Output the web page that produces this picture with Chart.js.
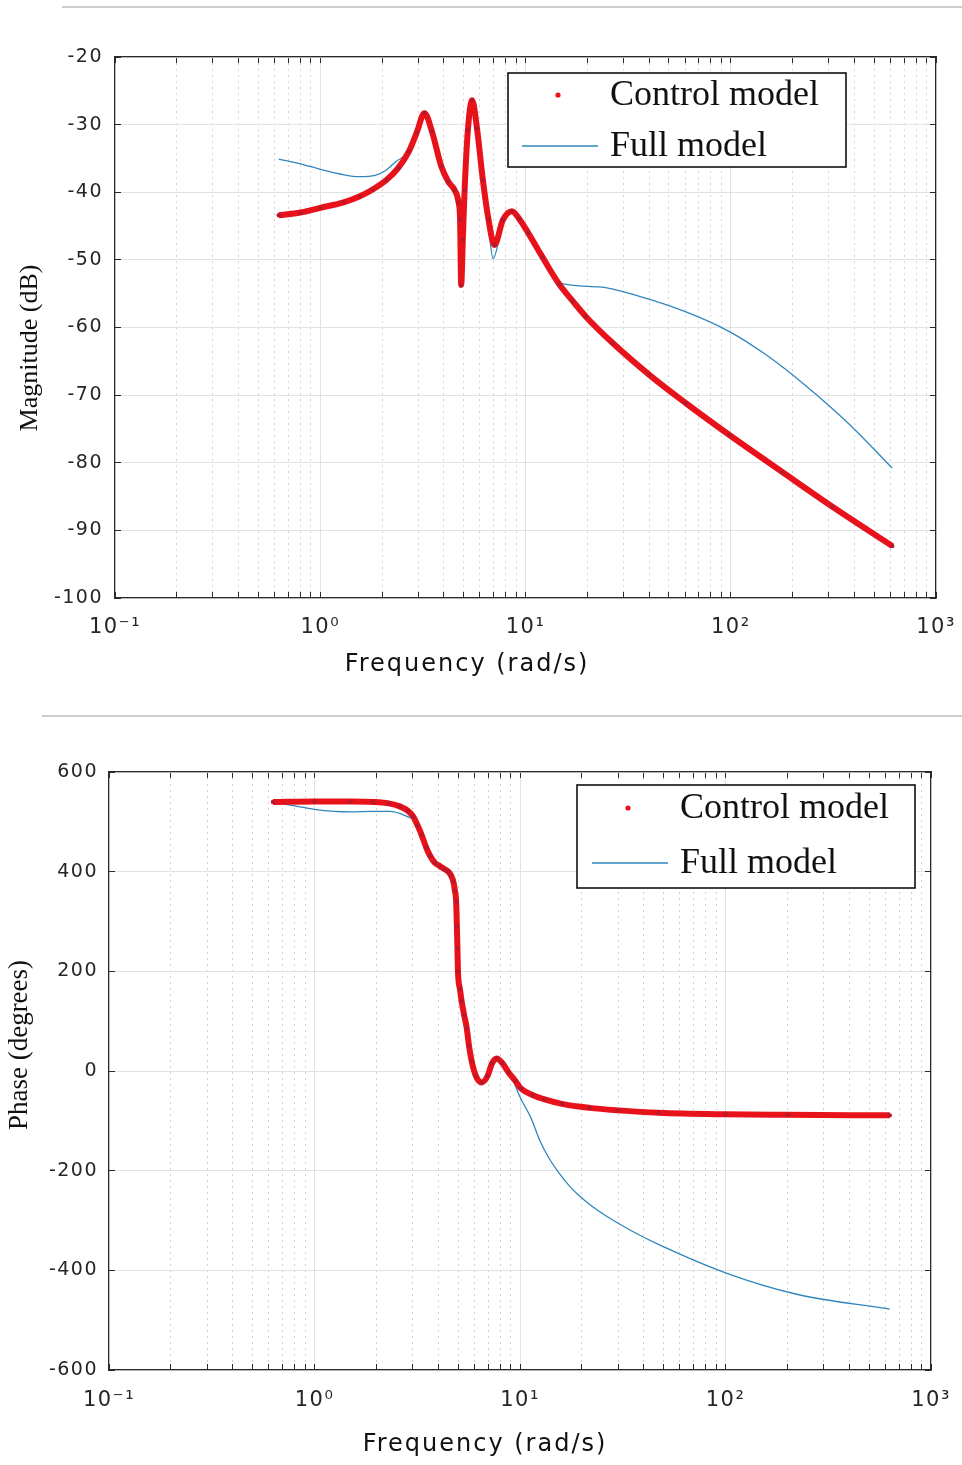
<!DOCTYPE html>
<html>
<head>
<meta charset="utf-8">
<script src="https://cdn.jsdelivr.net/npm/chart.js@4.4.1/dist/chart.umd.min.js"></script>
<style>
  html, body { margin: 0; padding: 0; background: #fff; }
  body { width: 962px; height: 1465px; position: relative; overflow: hidden; }
  .rule { position: absolute; height: 2px; background: #cdcdcd; }
  #magWrap { position: absolute; left: 0; top: 0; width: 962px; height: 700px; }
  #phWrap { position: absolute; left: 0; top: 720px; width: 962px; height: 745px; }
</style>
</head>
<body>
<div class="rule" style="left:62px; top:6px; width:900px;"></div>
<div class="rule" style="left:42px; top:715px; width:920px;"></div>
<div id="magWrap"><canvas id="magChart"></canvas></div>
<div id="phWrap"><canvas id="phChart"></canvas></div>

<script>
/* ------------------------------------------------------------------ */
/*  Axis ticks                                                        */
/* ------------------------------------------------------------------ */

var DECADES = [0.1, 1, 10, 100, 1000];
var DECADE_LABELS = ['10\u207B\u00B9', '10\u2070', '10\u00B9', '10\u00B2', '10\u00B3'];
var MINOR_STEPS = [2, 3, 4, 5, 6, 7, 8, 9];
var MAG_TICKS = [-100, -90, -80, -70, -60, -50, -40, -30, -20];
var PHASE_TICKS = [-600, -400, -200, 0, 200, 400, 600];

var SERIES_LABELS = ['Control model', 'Full model'];

/* ------------------------------------------------------------------ */
/*  Magnitude (dB)                              */
/* ------------------------------------------------------------------ */

var MAG_CTRL_FREQ = [0.628, 0.8, 1.0, 1.3, 1.56, 1.8, 2.1, 2.4, 2.7, 2.95, 3.22, 3.5, 3.89,
  4.2, 4.52, 4.72, 4.8, 4.86, 4.95, 5.05, 5.24, 5.5, 5.8, 6.2, 6.6, 7.06, 7.76, 8.59,
  9.3, 10.3, 12.1, 14.6, 17, 19.7, 26.6, 40.1, 60.5, 98.5, 179, 313, 612];
var MAG_CTRL_DB = [-43.4, -43.0, -42.3, -41.5, -40.6, -39.6, -38.2, -36.4, -34.0, -31.2, -28.3, -31.0, -36.2,
  -38.4, -39.7, -41.5, -44.0, -53.7, -47.0, -39.7, -30.8, -26.4, -30.5, -38.2, -44.0, -47.8, -44.1, -42.8,
  -43.9, -46.0, -49.6, -53.6, -56.1, -58.4, -62.3, -67.0, -71.2, -75.9, -81.4, -86.5, -92.3];

var MAG_FULL_FREQ = [0.628, 0.8, 1.0, 1.25, 1.56, 1.85, 2.1, 2.35, 2.7, 2.95, 3.22, 3.5, 3.89,
  4.2, 4.52, 4.72, 4.8, 4.86, 4.95, 5.05, 5.24, 5.5, 5.8, 6.2, 6.6, 6.95, 7.76, 8.59,
  9.3, 10.3, 12.1, 13.5, 14.6, 22.9, 35.9, 60.5, 98.5, 148, 232, 378, 612];
var MAG_FULL_DB = [-35.1, -35.8, -36.6, -37.3, -37.7, -37.5, -36.7, -35.4, -34.0, -31.2, -28.3, -31.0, -36.2,
  -38.4, -39.7, -41.5, -44.0, -53.5, -47.0, -39.7, -30.8, -26.4, -30.5, -38.2, -45.0, -49.8, -44.6, -42.9,
  -43.9, -46.0, -49.6, -52.2, -53.4, -54.0, -55.4, -57.7, -60.6, -64.0, -68.6, -74.3, -80.8];

/* ------------------------------------------------------------------ */
/*  Phase (degrees)                             */
/* ------------------------------------------------------------------ */

var PH_CTRL_FREQ = [0.628, 1.0, 1.5, 1.93, 2.3, 2.6, 2.85, 3.03, 3.18, 3.32, 3.5, 3.65, 3.85,
  4.08, 4.3, 4.48, 4.62, 4.74, 4.82, 4.89, 4.93, 4.96, 4.99, 5.1, 5.2, 5.35, 5.5, 5.65,
  5.82, 6.1, 6.51, 6.95, 7.3, 7.69, 8.2, 8.8, 9.5, 10.1, 11.5, 13.2, 16, 21.8, 30, 47.2,
  100, 200, 630];
var PH_CTRL_DEG = [540, 541, 541, 540, 537, 531, 522, 510, 492, 474, 448, 432, 418,
  411, 405, 400, 392, 380, 362, 340, 290, 247, 200, 165, 140, 112, 87, 50,
  20, -10, -23, -10, 15, 25, 16, -3, -20, -35, -48, -57, -66, -74, -79, -84,
  -87, -88, -89];

var PH_FULL_FREQ = [0.628, 0.8, 1.0, 1.25, 1.5, 1.9, 2.33, 2.6, 2.81, 3.03, 3.18, 3.32, 3.5,
  3.65, 3.85, 4.08, 4.3, 4.48, 4.62, 4.74, 4.82, 4.89, 4.93, 4.96, 4.99, 5.1, 5.2, 5.35,
  5.5, 5.65, 5.82, 6.1, 6.51, 6.95, 7.3, 7.69, 8.2, 8.97, 10.0, 11.3, 12.5, 13.8, 15.7,
  17.6, 19.6, 22.5, 26.5, 35, 47.2, 100, 222, 630];
var PH_FULL_DEG = [540, 532, 525, 521, 520, 521, 521, 517, 511, 505, 492, 474, 448,
  432, 418, 411, 405, 400, 392, 380, 362, 340, 290, 247, 200, 165, 140, 112,
  87, 50, 20, -10, -23, -10, 15, 25, 13, -7, -52, -94, -140, -174, -208,
  -233, -252, -272, -292, -321, -348, -405, -448, -478];

/* ------------------------------------------------------------------ */
/*  Helpers                                                           */
/* ------------------------------------------------------------------ */

function toPoints(xs, ys) {
  return xs.map(function (x, i) { return { x: x, y: ys[i] }; });
}

function logTicks() {
  var out = [];
  DECADES.forEach(function (d, i) {
    out.push({ value: d, major: true });
    if (i < DECADES.length - 1) {
      MINOR_STEPS.forEach(function (m) { out.push({ value: d * m, major: false }); });
    }
  });
  return out;
}

function fixedTicks(values) {
  return function (scale) {
    scale.ticks = values.map(function (v) { return { value: v, major: true }; });
  };
}

/* force an axis box size and drop the end-label overhang padding */
function setSize(prop, size) {
  return function (scale) {
    scale[prop] = size;
    scale.paddingLeft = 0;
    scale.paddingRight = 0;
  };
}

var AXIS_COLOR = '#2a2a2a';
var TICK_COLOR = '#262626';

/* the source figure has wide sans-serif axis text */
var axisSpacing = {
  id: 'axisSpacing',
  beforeDraw: function (chart) { chart.ctx.letterSpacing = '1.5px'; },
};

/* axis titles, placed where the figure has them (not centred on the axes) */
var axisTitles = {
  id: 'axisTitles',
  afterDraw: function (chart, args, opts) {
    var ctx = chart.ctx;
    ctx.save();
    ctx.fillStyle = '#111';
    ctx.textAlign = 'center';
    ctx.textBaseline = 'middle';
    ctx.letterSpacing = '2px';
    ctx.font = '24px "DejaVu Sans"';
    ctx.fillText(opts.xText, opts.xAt[0], opts.xAt[1]);
    ctx.letterSpacing = '0px';
    ctx.font = opts.ySize + 'px "Liberation Serif", serif';
    ctx.translate(opts.yAt[0], opts.yAt[1]);
    ctx.rotate(-Math.PI / 2);
    ctx.fillText(opts.yText, 0, 0);
    ctx.restore();
  },
};

/* boxed legend in MATLAB style */
var legendBox = {
  id: 'legendBox',
  afterDraw: function (chart, args, opts) {
    var ctx = chart.ctx;
    ctx.save();
    ctx.letterSpacing = '0px';
    ctx.fillStyle = '#fff';
    ctx.fillRect(opts.x, opts.y, opts.w, opts.h);
    ctx.strokeStyle = '#111';
    ctx.lineWidth = 1.6;
    ctx.strokeRect(opts.x, opts.y, opts.w, opts.h);
    chart.data.datasets.forEach(function (ds, i) {
      var cy = opts.y + opts.rows[i];
      if (ds.legendDot) {
        ctx.fillStyle = ds.borderColor;
        ctx.beginPath();
        ctx.arc(opts.markX, cy, 2.6, 0, Math.PI * 2);
        ctx.fill();
      } else {
        ctx.strokeStyle = ds.borderColor;
        ctx.lineWidth = ds.borderWidth;
        ctx.beginPath();
        ctx.moveTo(opts.markX - 36, cy);
        ctx.lineTo(opts.markX + 40, cy);
        ctx.stroke();
      }
      ctx.fillStyle = '#111';
      ctx.font = '36px "Liberation Serif", "Times New Roman", serif';
      ctx.textBaseline = 'middle';
      ctx.textAlign = 'left';
      ctx.fillText(ds.label, opts.textX, cy + 1);
    });
    ctx.restore();
  },
};

/* ------------------------------------------------------------------ */
/*  Chart builder                                                     */
/* ------------------------------------------------------------------ */

function makeBode(canvasId, s) {
  var datasets = [
    {
      label: SERIES_LABELS[0],
      data: toPoints(s.ctrlX, s.ctrlY),
      borderColor: '#e8121a',
      borderWidth: 6,
      pointRadius: 2.2,
      pointBorderWidth: 0,
      pointBackgroundColor: '#b8182c',
      cubicInterpolationMode: 'monotone',
      legendDot: true,
      order: 0,
    },
    {
      label: SERIES_LABELS[1],
      data: toPoints(s.fullX, s.fullY),
      borderColor: '#2f86bd',
      borderWidth: 1.3,
      pointRadius: 0,
      cubicInterpolationMode: 'monotone',
      order: 1,
    },
  ];

  return new Chart(document.getElementById(canvasId), {
    type: 'line',
    data: { datasets: datasets },
    plugins: [axisSpacing, legendBox, axisTitles],
    options: {
      responsive: true,
      maintainAspectRatio: false,
      animation: false,
      layout: { padding: s.padding },
      plugins: {
        legend: { display: false },
        tooltip: { enabled: false },
        legendBox: s.legend,
        axisTitles: s.titles,
      },
      scales: {
        x: {
          type: 'logarithmic',
          position: 'bottom',
          min: 0.1,
          max: 1000,
          afterBuildTicks: function (scale) { scale.ticks = logTicks(); },
          afterFit: setSize('height', s.xAxisHeight),
          ticks: {
            autoSkip: false,
            maxRotation: 0,
            padding: s.xTickPad,
            color: TICK_COLOR,
            font: { family: 'DejaVu Sans', size: 21 },
            callback: function (v) {
              var i = DECADES.indexOf(v);
              return i >= 0 ? DECADE_LABELS[i] : '';
            },
          },
          grid: {
            color: function (c) { return c.tick && c.tick.major ? '#e2e2e2' : '#d2d2d2'; },
            lineWidth: 1,
            tickLength: -6,
            tickColor: AXIS_COLOR,
          },
          border: {
            color: AXIS_COLOR,
            width: 1.2,
            dash: function (c) { return c.tick && !c.tick.major ? [2, 4] : []; },
          },
        },
        xTop: {
          type: 'logarithmic',
          position: 'top',
          min: 0.1,
          max: 1000,
          afterBuildTicks: function (scale) { scale.ticks = logTicks(); },
          afterFit: setSize('height', 0),
          ticks: { display: false },
          grid: { drawOnChartArea: false, tickLength: -6, tickColor: AXIS_COLOR },
          border: { color: AXIS_COLOR, width: 1.2 },
        },
        y: {
          type: 'linear',
          position: 'left',
          min: s.yMin,
          max: s.yMax,
          afterBuildTicks: fixedTicks(s.yTicks),
          afterFit: setSize('width', s.yAxisWidth),
          ticks: { padding: s.yTickPad, color: TICK_COLOR, font: { family: 'DejaVu Sans', size: 19 } },
          grid: { color: '#e2e2e2', lineWidth: 1, tickLength: -6, tickColor: AXIS_COLOR },
          border: { color: AXIS_COLOR, width: 1.2 },
        },
        yRight: {
          type: 'linear',
          position: 'right',
          min: s.yMin,
          max: s.yMax,
          afterBuildTicks: fixedTicks(s.yTicks),
          afterFit: setSize('width', 0),
          ticks: { display: false },
          grid: { drawOnChartArea: false, tickLength: -6, tickColor: AXIS_COLOR },
          border: { color: AXIS_COLOR, width: 1.2 },
        },
      },
    },
  });
}

makeBode('magChart', {
  ctrlX: MAG_CTRL_FREQ, ctrlY: MAG_CTRL_DB,
  fullX: MAG_FULL_FREQ, fullY: MAG_FULL_DB,
  yMin: -100, yMax: -20, yTicks: MAG_TICKS,
  padding: { top: 57, right: 26, left: 0, bottom: 0 },
  yAxisWidth: 115, xAxisHeight: 102,
  yTickPad: 18, xTickPad: 23,
  titles: { xText: 'Frequency (rad/s)', xAt: [467, 665], yText: 'Magnitude (dB)', yAt: [30, 348], ySize: 26 },
  legend: { x: 508, y: 73, w: 338, h: 94, rows: [22, 73], markX: 558, textX: 610 },
});

makeBode('phChart', {
  ctrlX: PH_CTRL_FREQ, ctrlY: PH_CTRL_DEG,
  fullX: PH_FULL_FREQ, fullY: PH_FULL_DEG,
  yMin: -600, yMax: 600, yTicks: PHASE_TICKS,
  padding: { top: 52, right: 31, left: 0, bottom: 0 },
  yAxisWidth: 109, xAxisHeight: 95,
  yTickPad: 17, xTickPad: 24,
  titles: { xText: 'Frequency (rad/s)', xAt: [485, 725], yText: 'Phase (degrees)', yAt: [20, 325], ySize: 27 },
  legend: { x: 577, y: 65, w: 338, h: 103, rows: [23, 78], markX: 628, textX: 680 },
});
</script>
</body>
</html>
